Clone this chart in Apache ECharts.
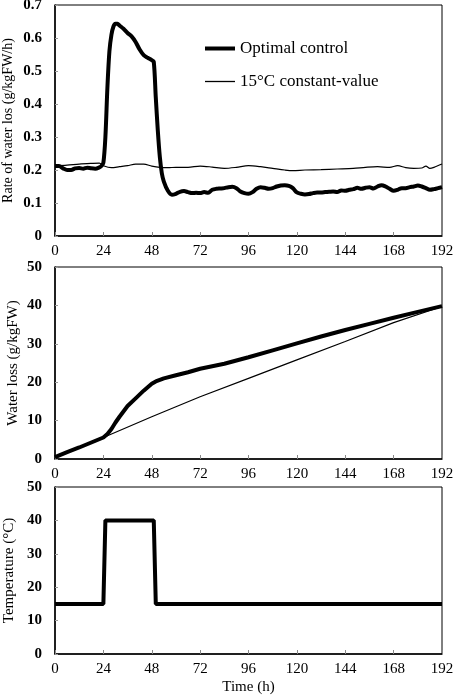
<!DOCTYPE html>
<html>
<head>
<meta charset="utf-8">
<script src="https://cdn.jsdelivr.net/npm/echarts@6/dist/echarts.min.js"></script>
<style>
  html, body { margin: 0; padding: 0; background: #fff; }
  #main { width: 454px; height: 696px; }
</style>
</head>
<body>
<div id="main"></div>
<script>
// x axis ticks (h)
const timeTicks = [0, 24, 48, 72, 96, 120, 144, 168, 192];

// top panel: rate of water loss (g/kgFW/h)
const rateTimeOpt = [0, 2, 4, 6, 8, 10, 12, 14, 16, 18, 20, 22, 23, 24, 25, 26, 27, 28, 29, 30, 31, 32, 34, 36, 38, 40, 42, 44, 46, 48, 49, 50, 51, 52, 53, 54, 56, 58, 60, 62, 64, 66, 68, 70, 72, 74, 76, 78, 80, 82, 84, 86, 88, 90, 92, 94, 96, 98, 100, 102, 104, 106, 108, 110, 112, 114, 116, 118, 120, 122, 124, 126, 128, 130, 132, 134, 136, 138, 140, 142, 144, 146, 148, 150, 152, 154, 156, 158, 160, 162, 164, 166, 168, 170, 172, 174, 176, 178, 180, 182, 184, 186, 188, 190, 192];
const rateOptimal = [0.212, 0.212, 0.205, 0.200, 0.200, 0.205, 0.206, 0.204, 0.207, 0.205, 0.204, 0.208, 0.212, 0.222, 0.30, 0.45, 0.56, 0.61, 0.635, 0.643, 0.643, 0.638, 0.628, 0.615, 0.605, 0.588, 0.565, 0.548, 0.540, 0.533, 0.528, 0.42, 0.32, 0.24, 0.19, 0.165, 0.137, 0.125, 0.128, 0.134, 0.136, 0.133, 0.130, 0.131, 0.130, 0.133, 0.131, 0.140, 0.143, 0.144, 0.145, 0.148, 0.149, 0.145, 0.135, 0.130, 0.128, 0.133, 0.143, 0.148, 0.146, 0.143, 0.145, 0.150, 0.153, 0.154, 0.152, 0.145, 0.132, 0.128, 0.126, 0.127, 0.130, 0.132, 0.132, 0.133, 0.134, 0.135, 0.133, 0.138, 0.137, 0.140, 0.142, 0.146, 0.143, 0.146, 0.148, 0.144, 0.150, 0.154, 0.150, 0.143, 0.137, 0.140, 0.145, 0.145, 0.148, 0.150, 0.153, 0.150, 0.145, 0.140, 0.142, 0.145, 0.148];
const rateTimeConst = [0, 6, 12, 18, 22, 24, 28, 32, 36, 40, 44, 48, 52, 56, 60, 66, 72, 78, 84, 90, 96, 102, 108, 114, 118, 124, 132, 140, 148, 154, 160, 166, 170, 174, 178, 182, 184, 186, 188, 192];
const rateConst = [0.213, 0.215, 0.218, 0.220, 0.221, 0.213, 0.207, 0.210, 0.213, 0.218, 0.218, 0.212, 0.208, 0.207, 0.208, 0.208, 0.212, 0.209, 0.205, 0.208, 0.213, 0.210, 0.205, 0.200, 0.198, 0.200, 0.201, 0.203, 0.205, 0.208, 0.210, 0.208, 0.213, 0.207, 0.205, 0.206, 0.212, 0.205, 0.208, 0.218];

// middle panel: cumulative water loss (g/kgFW)
const lossTimeOpt = [0, 6, 12, 18, 24, 26, 28, 30, 32, 36, 40, 44, 48, 50, 54, 60, 66, 72, 84, 96, 108, 120, 132, 144, 156, 168, 180, 192];
const lossOptimal = [0.5, 1.8, 3.0, 4.3, 5.6, 6.5, 7.8, 9.5, 11, 13.8, 15.8, 17.8, 19.6, 20.2, 21, 21.8, 22.6, 23.5, 24.8, 26.5, 28.3, 30.1, 31.9, 33.6, 35.2, 36.8, 38.3, 39.8];
const lossTimeConst = [0, 24, 48, 72, 96, 120, 144, 168, 192];
const lossConst = [0.5, 5.6, 11, 16.2, 21, 25.8, 30.6, 35.5, 39.7];

// bottom panel: temperature (°C)
const tempTime = [0, 24, 25, 49, 50, 192];
const tempOptimal = [15, 15, 40, 40, 15, 15];

const seriesNames = ['Optimal control', '15°C constant-value'];

function pairs(xs, ys) {
  return xs.map(function (x, i) { return [x, ys[i]]; });
}

const font = 'Liberation Serif';

function makeX(idx, withName) {
  return {
    type: 'value',
    gridIndex: idx,
    min: timeTicks[0],
    max: timeTicks[timeTicks.length - 1],
    interval: 24,
    name: withName ? 'Time (h)' : '',
    nameLocation: 'middle',
    nameGap: 26,
    nameMoveOverlap: false,
    nameTextStyle: { fontFamily: font, fontSize: 15, color: '#000' },
    axisLine: { lineStyle: { color: '#000', width: 1.5 } },
    axisTick: { show: true, inside: true, length: 4, lineStyle: { color: '#888' } },
    axisLabel: { fontFamily: font, fontSize: 15, color: '#000', margin: 8 },
    splitLine: { show: false }
  };
}

function makeY(idx, name, max, interval, gap, size) {
  return {
    type: 'value',
    gridIndex: idx,
    min: 0,
    max: max,
    interval: interval,
    name: name,
    nameLocation: 'middle',
    nameGap: gap,
    nameMoveOverlap: false,
    nameTextStyle: { fontFamily: font, fontSize: size, color: '#000' },
    axisLine: { show: true, lineStyle: { color: '#000', width: 1.5 } },
    axisTick: { show: true, inside: true, length: 3, lineStyle: { color: '#999' } },
    axisLabel: { fontFamily: font, fontSize: 15, fontWeight: 'bold', color: '#000', margin: 13 },
    splitLine: { show: false }
  };
}

function makeGrid(top, height) {
  return {
    left: 55, right: 12, top: top, height: height,
    outerBoundsMode: 'none', containLabel: false,
    show: true, borderColor: '#000', borderWidth: 1
  };
}

// one legend per entry so each key line keeps its own thickness
function makeLegend(name, top, thick) {
  return {
    left: 200,
    top: top,
    icon: 'rect',
    itemWidth: 30,
    itemHeight: thick,
    textStyle: { fontFamily: font, fontSize: 17, color: '#000' },
    itemStyle: { color: '#000' },
    data: [name]
  };
}

let chart = null;

function initChart() {
  chart = echarts.init(document.getElementById('main'), null, { renderer: 'canvas' });
  let option = {
    animation: false,
    backgroundColor: '#fff',
    grid: [makeGrid(5, 231), makeGrid(267, 192), makeGrid(487, 167)],
    legend: [
      makeLegend(seriesNames[0], 35, 4),
      makeLegend(seriesNames[1], 68, 1.3)
    ],
    xAxis: [makeX(0, false), makeX(1, false), makeX(2, true)],
    yAxis: [
      makeY(0, 'Rate of water los (g/kgFW/h)', 0.7, 0.1, 40, 14),
      makeY(1, 'Water loss (g/kgFW)', 50, 10, 34, 15),
      makeY(2, 'Temperature (°C)', 50, 10, 38, 15)
    ],
    series: [
      {
        name: seriesNames[0], type: 'line', xAxisIndex: 0, yAxisIndex: 0,
        showSymbol: false, symbol: 'none', smooth: 0.3,
        lineStyle: { color: '#000', width: 4 },
        itemStyle: { color: '#000' },
        data: pairs(rateTimeOpt, rateOptimal)
      },
      {
        name: seriesNames[1], type: 'line', xAxisIndex: 0, yAxisIndex: 0,
        showSymbol: false, symbol: 'none', smooth: 0.3,
        lineStyle: { color: '#000', width: 1.2 },
        itemStyle: { color: '#000' },
        data: pairs(rateTimeConst, rateConst)
      },
      {
        name: seriesNames[0], type: 'line', xAxisIndex: 1, yAxisIndex: 1,
        showSymbol: false, symbol: 'none',
        lineStyle: { color: '#000', width: 4 },
        itemStyle: { color: '#000' },
        data: pairs(lossTimeOpt, lossOptimal)
      },
      {
        name: seriesNames[1], type: 'line', xAxisIndex: 1, yAxisIndex: 1,
        showSymbol: false, symbol: 'none',
        lineStyle: { color: '#000', width: 1.2 },
        itemStyle: { color: '#000' },
        data: pairs(lossTimeConst, lossConst)
      },
      {
        name: seriesNames[0], type: 'line', xAxisIndex: 2, yAxisIndex: 2,
        showSymbol: false, symbol: 'none',
        lineStyle: { color: '#000', width: 4 },
        itemStyle: { color: '#000' },
        data: pairs(tempTime, tempOptimal)
      }
    ]
  };
  chart.setOption(option);
  return chart;
}

initChart();
</script>
</body>
</html>
